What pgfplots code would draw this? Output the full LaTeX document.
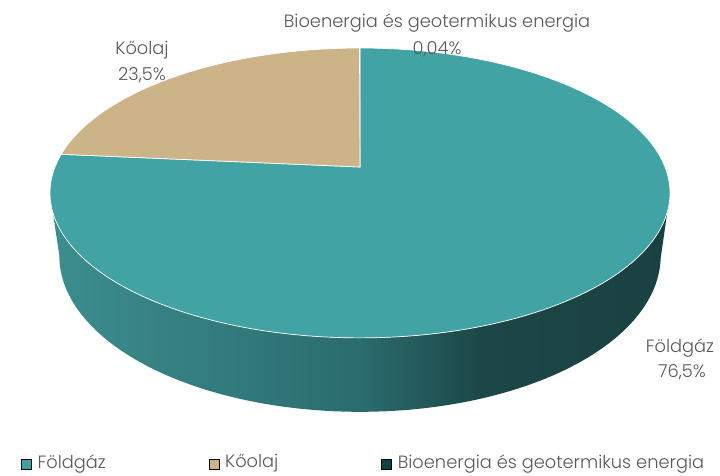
\documentclass[border=0pt]{standalone}
\usepackage{pgfplots}
\usepackage{pgfplotstable}
\pgfplotsset{compat=1.18}
\usepackage{fontspec}
\setmainfont{Poppins}[UprightFont={* Light}]
\definecolor{teal1}{HTML}{42A3A5}
\definecolor{tan1}{HTML}{CDB488}
\definecolor{dark1}{HTML}{0E4446}
\definecolor{txt}{HTML}{595959}
\definecolor{sL}{HTML}{3C8E8F}
\definecolor{sM}{HTML}{2B6C6E}
\definecolor{sD}{HTML}{1C4647}
\definecolor{sR}{HTML}{1A4142}
\pgfdeclarehorizontalshading{sideshade}{100bp}{color(0bp)=(sL); color(25bp)=(sL); color(50bp)=(sM); color(60bp)=(sD); color(75bp)=(sR); color(100bp)=(sR)}

\pgfplotstableread{
name value
Foldgaz 76.5
Koolaj 23.5
Bio 0.04
}\datatable
\pgfplotstablegetelem{0}{value}\of\datatable \let\vA\pgfplotsretval
\pgfplotstablegetelem{1}{value}\of\datatable \let\vB\pgfplotsretval
\pgfplotstablegetelem{2}{value}\of\datatable \let\vC\pgfplotsretval
\pgfmathsetmacro\tot{\vA+\vB+\vC}
\pgfmathsetmacro\aA{90-\vA/\tot*360}
\pgfmathsetmacro\aB{\aA-\vB/\tot*360}
\pgfmathsetmacro\aC{\aB-\vC/\tot*360}

\def\cx{360}
\def\cy{308}
\def\sA{305}
\def\cB{140.3}
\def\pp{0.179}
\def\hh{60.7}
\def\tL{190.3}
\def\tR{349.7}
\newcommand\fs{\fontsize{17.8bp}{20bp}\selectfont}

\begin{document}
\begin{tikzpicture}
\begin{axis}[
  width=720bp, height=475bp, scale only axis,
  xmin=0, xmax=720, ymin=0, ymax=475,
  axis lines=none, clip=false,
  declare function={
    PX(\a,\k)=\cx+\k*\sA*cos(\a)/(1+\pp*sin(\a));
    PY(\a,\d)=\cy+(\cB*sin(\a)-\d)/(1+\pp*sin(\a));
    angS(\s)=(\s<=1)?(\tL+\s*(\tR-\tL)):(\tR-(\s-1)*(\tR-\tL));
    kS(\s)=(\s<=1)?1:0.97;
    dS(\s)=(\s<=1)?0:\hh;
  },
  legend image code/.code={\fill[#1] (0bp,-7bp) rectangle (10bp,3bp); \path (12bp,0bp);},
  legend style={at={(axis cs:21,13)}, anchor=west, draw=none, fill=none,
    inner sep=0pt, legend columns=3, font=\fs,
    text=txt, /tikz/every even column/.append style={column sep=99bp},
    nodes={inner xsep=4bp, inner ysep=0pt}},
  legend cell align=left,
]
\path (axis cs:0,0) rectangle (axis cs:720,475);
% side
\addplot[forget plot, draw=none, shading=sideshade, domain=0:2, samples=301, variable=\s]
  ({PX(angS(s),kS(s))},{PY(angS(s),dS(s))}) -- cycle;
% top slices
\addplot[forget plot, fill=teal1, draw=white, line width=0.7bp, domain=\aA:90, samples=200, variable=\t]
  ({PX(t,1)},{PY(t,0)}) -- (axis cs:\cx,\cy) -- cycle;
\addplot[forget plot, fill=tan1, draw=white, line width=0.7bp, domain=\aB:\aA, samples=80, variable=\t]
  ({PX(t,1)},{PY(t,0)}) -- (axis cs:\cx,\cy) -- cycle;
\addplot[forget plot, fill=dark1, draw=white, line width=0.5bp, domain=\aC:\aB, samples=2, variable=\t]
  ({PX(t,1)},{PY(t,0)}) -- (axis cs:\cx,\cy) -- cycle;

\addlegendimage{fill=teal1}
\addlegendentry{Földgáz}
\addlegendimage{fill=tan1}
\addlegendentry{Kőolaj}
\addlegendimage{fill=dark1}
\addlegendentry{Bioenergia és geotermikus energia}

\begin{scope}[every node/.style={text=txt, font=\fs, anchor=base, inner sep=0pt}]
\node at (axis cs:437,447) {Bioenergia és geotermikus energia};
\node at (axis cs:437,420) {0,04\%};
\node at (axis cs:142,420) {Kőolaj};
\node at (axis cs:142,394) {23,5\%};
\node at (axis cs:680,123) {Földgáz};
\node at (axis cs:682,98) {76,5\%};
\end{scope}
\end{axis}
\end{tikzpicture}
\end{document}
